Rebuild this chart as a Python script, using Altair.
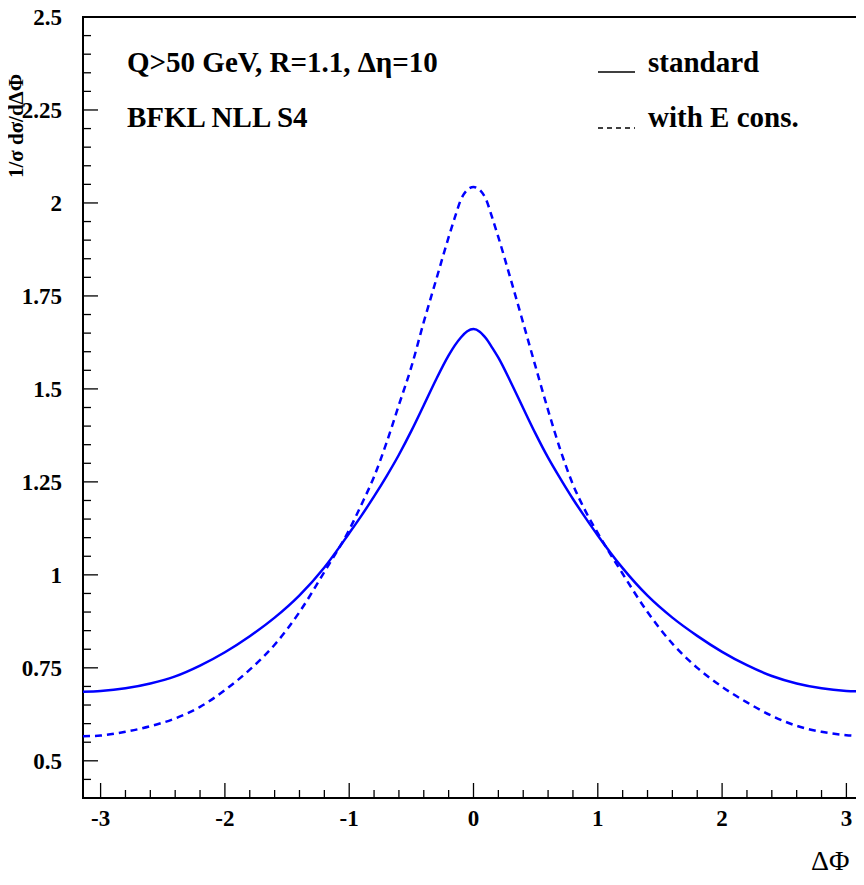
import altair as alt
import pandas as pd

# ---- data ----
phi = [-3.1416, -3.0, -2.8, -2.6, -2.4, -2.2, -2.0, -1.8, -1.6, -1.4, -1.2, -1.0, -0.9, -0.8,
       -0.7, -0.6, -0.5, -0.4, -0.3, -0.2, -0.15, -0.1, -0.05, 0.0, 0.05, 0.1, 0.15, 0.2, 0.3,
       0.4, 0.5, 0.6, 0.7, 0.8, 0.9, 1.0, 1.2, 1.4, 1.6, 1.8, 2.0, 2.2, 2.4, 2.6, 2.8, 3.0, 3.1416]
standard = [0.686, 0.688, 0.695, 0.708, 0.727, 0.756, 0.792, 0.835, 0.885, 0.945, 1.020, 1.112,
            1.160, 1.211, 1.265, 1.323, 1.387, 1.456, 1.526, 1.590, 1.617, 1.639, 1.655,
            1.661,
            1.654, 1.636, 1.611, 1.584, 1.518, 1.448, 1.379, 1.315, 1.258, 1.204, 1.154, 1.106,
            1.018, 0.944, 0.885, 0.836, 0.793, 0.757, 0.728, 0.708, 0.695, 0.688, 0.686]
econs = [0.566, 0.568, 0.578, 0.593, 0.614, 0.645, 0.690, 0.745, 0.812, 0.900, 1.008, 1.121,
         1.190, 1.264, 1.355, 1.457, 1.559, 1.680, 1.794, 1.908, 1.961, 2.010, 2.035,
         2.043,
         2.035, 2.010, 1.961, 1.908, 1.794, 1.677, 1.559, 1.443, 1.335, 1.243, 1.172, 1.112,
         1.003, 0.900, 0.815, 0.750, 0.699, 0.657, 0.621, 0.594, 0.578, 0.569, 0.566]

x_major = [-3, -2, -1, 0, 1, 2, 3]
x_major_labels = ["-3", "-2", "-1", "0", "1", "2", "3"]
x_minor = [-2.8, -2.6, -2.4, -2.2, -1.8, -1.6, -1.4, -1.2, -0.8, -0.6, -0.4, -0.2,
           0.2, 0.4, 0.6, 0.8, 1.2, 1.4, 1.6, 1.8, 2.2, 2.4, 2.6, 2.8]
y_major = [0.5, 0.75, 1.0, 1.25, 1.5, 1.75, 2.0, 2.25, 2.5]
y_major_labels = ["0.5", "0.75", "1", "1.25", "1.5", "1.75", "2", "2.25", "2.5"]
y_minor = [0.45, 0.55, 0.6, 0.65, 0.7, 0.8, 0.85, 0.9, 0.95, 1.05, 1.1, 1.15, 1.2,
           1.3, 1.35, 1.4, 1.45, 1.55, 1.6, 1.65, 1.7, 1.8, 1.85, 1.9, 1.95,
           2.05, 2.1, 2.15, 2.2, 2.3, 2.35, 2.4, 2.45]

info_lines = ["Q>50 GeV, R=1.1, \u0394\u03b7=10", "BFKL NLL S4"]
legend_labels = ["standard", "with E cons."]
y_title = "1/\u03c3 d\u03c3/d\u0394\u03a6"
x_title = "\u0394\u03a6"

W, H = 781, 781
FONT = "Liberation Serif"
BLUE = "#0000ff"

xscale = alt.Scale(domain=[-3.1416, 3.1416], nice=False, zero=False)
yscale = alt.Scale(domain=[0.4, 2.5], nice=False, zero=False)

df_s = pd.DataFrame({"phi": phi, "val": standard})
df_e = pd.DataFrame({"phi": phi, "val": econs})

solid = alt.Chart(df_s).mark_line(color=BLUE, strokeWidth=2.5, interpolate="monotone").encode(
    x=alt.X("phi:Q", scale=xscale, axis=None),
    y=alt.Y("val:Q", scale=yscale, axis=None),
)
dashed = alt.Chart(df_e).mark_line(color=BLUE, strokeWidth=2.5, strokeDash=[7, 5],
                                   interpolate="monotone").encode(
    x=alt.X("phi:Q", scale=xscale, axis=None),
    y=alt.Y("val:Q", scale=yscale, axis=None),
)

def xticks(vals, length):
    return alt.Chart(pd.DataFrame({"t": vals})).mark_rule(color="black", strokeWidth=1.3).encode(
        x=alt.X("t:Q", scale=xscale, axis=None),
        y=alt.value(H), y2=alt.value(H - length))

def yticks(vals, length):
    return alt.Chart(pd.DataFrame({"t": vals})).mark_rule(color="black", strokeWidth=1.3).encode(
        y=alt.Y("t:Q", scale=yscale, axis=None),
        x=alt.value(0), x2=alt.value(length))

xlabels = alt.Chart(pd.DataFrame({"t": x_major, "s": x_major_labels})).mark_text(
    font=FONT, fontWeight="bold", fontSize=23, color="black", align="center", baseline="alphabetic"
).encode(x=alt.X("t:Q", scale=xscale, axis=None), y=alt.value(809), text="s:N")

ylabels = alt.Chart(pd.DataFrame({"t": y_major, "s": y_major_labels})).mark_text(
    font=FONT, fontWeight="bold", fontSize=23, color="black", align="right", baseline="middle",
    dy=1
).encode(y=alt.Y("t:Q", scale=yscale, axis=None), x=alt.value(-21), text="s:N")

def text(s, x, y, weight="bold", size=29, **kw):
    return alt.Chart(pd.DataFrame({"s": [s]})).mark_text(
        font=FONT, fontWeight=weight, fontSize=size, color="black", **kw
    ).encode(text="s:N", x=alt.value(x), y=alt.value(y))

one = pd.DataFrame({"k": [0]})
leg_solid = alt.Chart(one).mark_rule(color="black", strokeWidth=1.5).encode(
    x=alt.value(515), x2=alt.value(552), y=alt.value(55))
leg_dash = alt.Chart(one).mark_rule(color="black", strokeWidth=1.5, strokeDash=[5, 4]).encode(
    x=alt.value(515), x2=alt.value(552), y=alt.value(111))

chart = alt.layer(
    solid, dashed,
    xticks(x_major, 15), xticks(x_minor, 8),
    yticks(y_major, 15), yticks(y_minor, 8),
    xlabels, ylabels,
    leg_solid, leg_dash,
    text(info_lines[0], 44, 55, align="left", baseline="alphabetic"),
    text(info_lines[1], 44, 110, align="left", baseline="alphabetic"),
    text(legend_labels[0], 565, 55, align="left", baseline="alphabetic"),
    text(legend_labels[1], 565, 110, align="left", baseline="alphabetic"),
    text(x_title, 728, 853, weight="normal", size=28, align="left", baseline="alphabetic"),
    text(y_title, -60, 161, size=21, align="left", baseline="alphabetic", angle=270),
).properties(
    width=W, height=H,
    autosize=alt.AutoSizeParams(type="none"),
    padding={"left": 75, "top": 9, "right": -8, "bottom": 75},
).configure_view(stroke="black", strokeWidth=2)

chart.save("out.html", embed_options={"renderer": "svg", "actions": False})
